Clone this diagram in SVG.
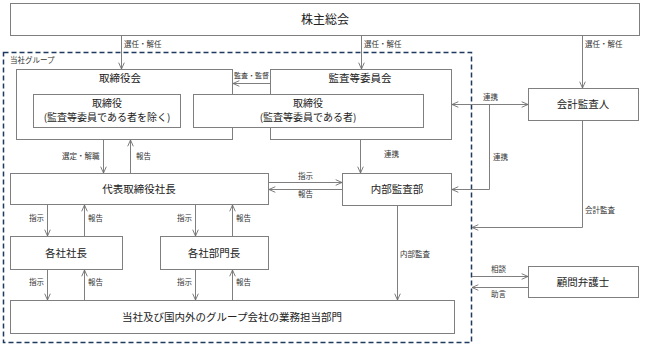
<svg xmlns="http://www.w3.org/2000/svg" width="647" height="345" viewBox="0 0 647 345">
<defs>
<marker id="ah" viewBox="0 0 10 10" refX="10" refY="5" markerWidth="7" markerHeight="7" markerUnits="userSpaceOnUse" orient="auto-start-reverse">
<path d="M1,1 L10,5 L1,9" fill="none" stroke="#707070" stroke-width="1.3"/>
</marker>
<style>
.box{fill:#fff;stroke:#7f7f7f;stroke-width:1}
.obox{fill:none;stroke:#7f7f7f;stroke-width:1}
.ln{fill:none;stroke:#7f7f7f;stroke-width:1}
.a{marker-end:url(#ah)}
.t{font-family:"Noto Sans CJK JP","Noto Sans",sans-serif;fill:#222;text-anchor:middle}
.big{font-size:12px}
.mid{font-size:10.5px}
.in{font-size:10px}
.sm{font-size:7.5px;fill:#333;text-anchor:start}
</style>
</defs>
<rect width="647" height="345" fill="#fff"/>

<g id="group-border">
<rect x="3.5" y="52.5" width="468" height="290" fill="none" stroke="#1f3a5f" stroke-width="1.5" stroke-dasharray="5,3"/>
<text class="t sm" x="10" y="63">当社グループ</text>
</g>

<g id="kabunushi">
<rect class="box" x="10.5" y="3.5" width="629" height="32"/>
<text class="t big" x="325" y="24">株主総会</text>
</g>

<g id="torishimariyakukai">
<rect class="obox" x="16.5" y="69.5" width="216" height="70"/>
<text class="t mid" x="120" y="82">取締役会</text>
</g>

<g id="kansakai">
<rect class="obox" x="270.5" y="69.5" width="181" height="70"/>
<text class="t mid" x="360" y="82">監査等委員会</text>
</g>

<g id="torishimariyaku1">
<rect class="box" x="33.5" y="94.5" width="147" height="33"/>
<text class="t in" x="107" y="107">取締役</text>
<text class="t in" x="107" y="121">(監査等委員である者を除く)</text>
</g>

<g id="torishimariyaku2">
<rect class="box" x="193.5" y="94.5" width="230" height="33"/>
<text class="t in" x="308" y="107">取締役</text>
<text class="t in" x="308" y="121">(監査等委員である者)</text>
</g>

<g id="kaikei">
<rect class="box" x="528.5" y="88.5" width="110" height="32"/>
<text class="t mid" x="583" y="108">会計監査人</text>
</g>

<g id="daihyo">
<rect class="box" x="10.5" y="173.5" width="258" height="31"/>
<text class="t mid" x="139" y="193">代表取締役社長</text>
</g>

<g id="naibu">
<rect class="box" x="342.5" y="173.5" width="109" height="32"/>
<text class="t mid" x="397" y="193">内部監査部</text>
</g>

<g id="shacho">
<rect class="box" x="10.5" y="236.5" width="112" height="33"/>
<text class="t mid" x="66" y="257">各社社長</text>
</g>

<g id="bumoncho">
<rect class="box" x="160.5" y="236.5" width="108" height="33"/>
<text class="t mid" x="214" y="257">各社部門長</text>
</g>

<g id="gyomu">
<rect class="box" x="10.5" y="300.5" width="444" height="33"/>
<text class="t mid" x="232" y="321">当社及び国内外のグループ会社の業務担当部門</text>
</g>

<g id="bengoshi">
<rect class="box" x="528.5" y="266.5" width="110" height="31"/>
<text class="t mid" x="583" y="286">顧問弁護士</text>
</g>

<g id="connectors">
<line class="ln a" x1="121.5" y1="36" x2="121.5" y2="69"/>
<text class="t sm" x="124" y="47">選任・解任</text>
<line class="ln a" x1="361.5" y1="36" x2="361.5" y2="69"/>
<text class="t sm" x="364" y="47">選任・解任</text>
<line class="ln a" x1="582.5" y1="36" x2="582.5" y2="88"/>
<text class="t sm" x="585" y="47">選任・解任</text>

<line class="ln a" x1="270" y1="83.5" x2="233" y2="83.5"/>
<text class="t sm" x="234" y="78" style="font-size:7px">監査・監督</text>

<line class="ln a" x1="490" y1="104.5" x2="452" y2="104.5"/>
<line class="ln a" x1="490" y1="104.5" x2="528" y2="104.5"/>
<text class="t sm" x="483" y="100">連携</text>
<polyline class="ln a" points="489.5,104.5 489.5,189.5 452,189.5"/>
<text class="t sm" x="493" y="160">連携</text>

<line class="ln a" x1="360.5" y1="140" x2="360.5" y2="173"/>
<text class="t sm" x="384" y="157">連携</text>

<line class="ln a" x1="103.5" y1="140" x2="103.5" y2="173"/>
<text class="t sm" x="62" y="159">選定・解職</text>
<line class="ln a" x1="130.5" y1="173" x2="130.5" y2="140"/>
<text class="t sm" x="136" y="159">報告</text>

<line class="ln a" x1="269" y1="182.5" x2="342" y2="182.5"/>
<text class="t sm" x="298" y="179">指示</text>
<line class="ln a" x1="342" y1="189.5" x2="269" y2="189.5"/>
<text class="t sm" x="298" y="197">報告</text>

<line class="ln a" x1="47.5" y1="205" x2="47.5" y2="236"/>
<text class="t sm" x="29" y="221">指示</text>
<line class="ln a" x1="84.5" y1="236" x2="84.5" y2="205"/>
<text class="t sm" x="88" y="221">報告</text>
<line class="ln a" x1="195.5" y1="205" x2="195.5" y2="236"/>
<text class="t sm" x="177" y="221">指示</text>
<line class="ln a" x1="232.5" y1="236" x2="232.5" y2="205"/>
<text class="t sm" x="236" y="221">報告</text>

<line class="ln a" x1="47.5" y1="270" x2="47.5" y2="300"/>
<text class="t sm" x="29" y="285">指示</text>
<line class="ln a" x1="84.5" y1="300" x2="84.5" y2="270"/>
<text class="t sm" x="88" y="285">報告</text>
<line class="ln a" x1="195.5" y1="270" x2="195.5" y2="300"/>
<text class="t sm" x="177" y="285">指示</text>
<line class="ln a" x1="232.5" y1="300" x2="232.5" y2="270"/>
<text class="t sm" x="236" y="285">報告</text>

<line class="ln a" x1="397.5" y1="206" x2="397.5" y2="300"/>
<text class="t sm" x="400" y="257">内部監査</text>

<polyline class="ln a" points="582.5,121 582.5,227.5 472,227.5"/>
<text class="t sm" x="585" y="213">会計監査</text>

<line class="ln a" x1="472" y1="276.5" x2="528" y2="276.5"/>
<text class="t sm" x="491" y="272">相談</text>
<line class="ln a" x1="528" y1="287.5" x2="472" y2="287.5"/>
<text class="t sm" x="491" y="297">助言</text>
</g>
</svg>
